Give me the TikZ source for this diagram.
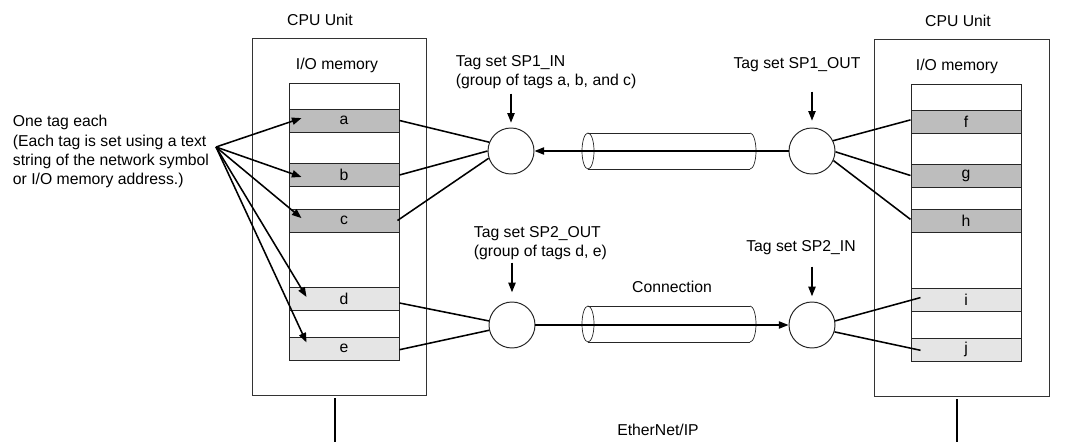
\documentclass[tikz,border=0pt]{standalone}
\usepackage{fontspec}
\setmainfont{Liberation Sans}
\usetikzlibrary{arrows.meta}

\begin{document}
\begin{tikzpicture}[x=0.25mm, y=-0.25mm,
  font=\fontsize{11.2}{13.6}\selectfont,
  row/.style={draw=black!85, line width=0.7pt, minimum width=27.5mm, minimum height=5.75mm, inner sep=0pt},
  dark/.style={row, fill=black!26},
  light/.style={row, fill=black!10},
  tagset/.style={draw=black!85, circle, line width=0.7pt, minimum size=11.5mm, inner sep=0pt},
  wire/.style={line width=1.1pt},
  arr/.style={line width=1.1pt, -{Triangle[length=2.4mm,width=1.8mm]}},
  pipe/.style={line width=0.5pt, draw=black!85}]
  \useasboundingbox (0,0) rectangle (1066,442);
  % linke CPU
  \node at (320,20) {CPU Unit};
  \draw[line width=0.6pt, black!80] (252,38) rectangle (426,395);
  \node at (337,65) {I/O memory};
  \draw[line width=0.7pt, black!85] (289,83) rectangle (399,360);
  \node[dark] (a) at (344,120.5) {a};
  \node[dark] (b) at (344,175) {b};
  \node[dark] (c) at (344,220.5) {c};
  \node[light] (d) at (344,299) {d};
  \node[light] (e) at (344,348.5) {e};
  \draw[wire] (335,398) -- (335,442);
  % rechte CPU
  \node at (958,21) {CPU Unit};
  \draw[line width=0.6pt, black!80] (874,39) rectangle (1049,396);
  \node at (957,66) {I/O memory};
  \draw[line width=0.7pt, black!85] (911,84) rectangle (1021,361);
  \node[dark] (f) at (966,121.5) {f};
  \node[dark] (g) at (966,175.5) {g};
  \node[dark] (h) at (966,221) {h};
  \node[light] (i) at (966,300) {i};
  \node[light] (j) at (966,349.5) {j};
  \draw[wire] (957,399) -- (957,442);
  % tags
  \node[align=left, anchor=west] (note) at (8,151.5) {One tag each\\(Each tag is set using a text\\string of the network symbol\\or I/O memory address.)};
  \coordinate (src) at (216,147);
  \draw[arr] (src) -- ([xshift=3.25mm,yshift=0.6mm]a.west);
  \draw[arr] (src) -- ([xshift=3.25mm,yshift=-0.5mm]b.west);
  \draw[arr] (src) -- ([xshift=3.25mm,yshift=0.6mm]c.west);
  \draw[arr] (src) -- ([xshift=4.5mm,yshift=0.5mm]d.west);
  \draw[arr] (src) -- ([xshift=4.5mm,yshift=1.5mm]e.west);
  % tag sets
  \node[tagset] (sp1in) at (511,151) {};
  \node[tagset] (sp2out) at (512,325) {};
  \node[tagset] (sp1out) at (812,151) {};
  \node[tagset] (sp2in) at (812,325) {};
  \node[align=left, anchor=west] (l1in) at (451,72.5) {Tag set SP1\_IN\\(group of tags a, b, and c)};
  \node[align=left, anchor=west] (l2out) at (469,243) {Tag set SP2\_OUT\\(group of tags d, e)};
  \node (l1out) at (797,65) {Tag set SP1\_OUT};
  \node (l2in) at (801,248) {Tag set SP2\_IN};
  \draw[arr] ([yshift=8.5mm]sp1in.north) -- ([yshift=1.2mm]sp1in.north);
  \draw[arr] ([yshift=9mm]sp1out.north) -- ([yshift=1.7mm]sp1out.north);
  \draw[arr] ([yshift=9.75mm]sp2out.north) -- ([yshift=2.3mm]sp2out.north);
  \draw[arr] ([yshift=8.75mm]sp2in.north) -- ([yshift=1.3mm]sp2in.north);
  % leitungen
  \draw[wire] (a.east) -- (sp1in.158);
  \draw[wire] (b.east) -- (sp1in.180);
  \draw[wire] ([xshift=-0.5mm]c.east) -- (sp1in.198);
  \draw[wire] ([yshift=-1mm]d.east) -- (sp2out.170);
  \draw[wire] ([yshift=-0.3mm]e.east) -- (sp2out.193);
  \draw[wire] (sp1out.26) -- ([yshift=0.4mm]f.west);
  \draw[wire] (sp1out.358) -- (g.west);
  \draw[wire] (sp1out.336) -- ([yshift=0.4mm]h.west);
  \draw[wire] (sp2in.10) -- ([xshift=2.5mm,yshift=0.6mm]i.west);
  \draw[wire] (sp2in.343) -- ([xshift=2.5mm,yshift=-0.2mm]j.west);
  % verbindungen
  \draw[pipe] (588,151) ellipse (6 and 18);
  \draw[pipe] (588,133) -- (750,133) (588,169) -- (750,169);
  \draw[pipe] (750,133) arc[start angle=-90, end angle=90, x radius=6, y radius=18];
  \draw[pipe] (588,324) ellipse (6 and 18);
  \draw[pipe] (588,306) -- (750,306) (588,342) -- (750,342);
  \draw[pipe] (750,306) arc[start angle=-90, end angle=90, x radius=6, y radius=18];
  \draw[arr] (sp1out.west) -- (sp1in.east);
  \draw[arr] (sp2out.east) -- (sp2in.west);
  \node (conn) at (672,287) {Connection};
  \node (eip) at (658,430) {EtherNet/IP};
\end{tikzpicture}
\end{document}
